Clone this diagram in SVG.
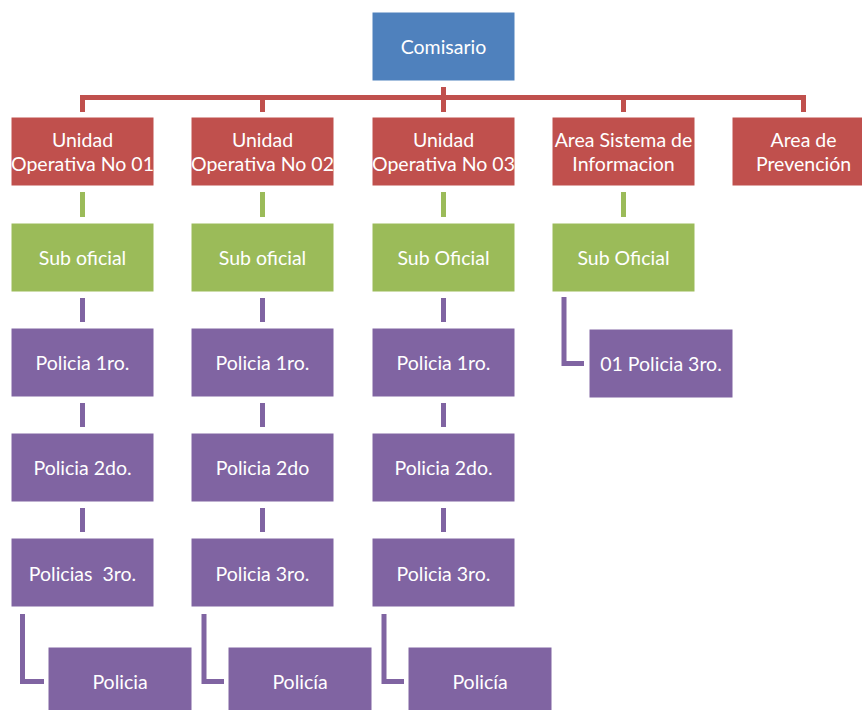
<svg xmlns="http://www.w3.org/2000/svg" width="862" height="710" viewBox="0 0 862 710">
<style>
.b{stroke:#fff;stroke-width:1}
.blue{fill:#4F81BD}.red{fill:#C0504D}.green{fill:#9BBB59}.purple{fill:#8064A2}
text{font-family:Lato,"Open Sans","Liberation Sans",sans-serif;font-size:19.5px;fill:#fff;text-anchor:middle;dominant-baseline:central}
.cr{stroke:#C0504D;stroke-width:5;fill:none}
.cg{stroke:#9BBB59;stroke-width:5;fill:none}
.cp{stroke:#8064A2;stroke-width:5;fill:none}
</style>
<rect width="862" height="710" fill="#fff"/>
<g id="connectors">
<path class="cr" d="M443.5 87V97.5M82.5 112V97.5H803.5V112M262.5 97.5V112M443.5 97.5V112M623.5 97.5V112"/>
<path class="cg" d="M82.5 192V217M262.5 192V217M443.5 192V217M623.5 192V217"/>
<path class="cp" d="M82.5 298V322M82.5 403V427M82.5 508V532M262.5 298V322M262.5 403V427M262.5 508V532M443.5 298V322M443.5 403V427M443.5 508V532"/>
<path class="cp" d="M22.5 614V681.5H44M204 614V681.5H224M384 614V681.5H404M564 297V363.5H584"/>
</g>
<g id="n-comisario"><rect class="b blue" x="372" y="12" width="143" height="69"/><text x="443.5" y="46">Comisario</text></g>
<g id="n-u1"><rect class="b red" x="11" y="117" width="143" height="69"/><text x="82.5" y="139.5">Unidad</text><text x="82.5" y="163.5">Operativa No 01</text></g>
<g id="n-u2"><rect class="b red" x="191" y="117" width="143" height="69"/><text x="262.5" y="139.5">Unidad</text><text x="262.5" y="163.5">Operativa No 02</text></g>
<g id="n-u3"><rect class="b red" x="372" y="117" width="143" height="69"/><text x="443.5" y="139.5">Unidad</text><text x="443.5" y="163.5">Operativa No 03</text></g>
<g id="n-asi"><rect class="b red" x="552" y="117" width="143" height="69"/><text x="623.5" y="139.5">Area Sistema de</text><text x="623.5" y="163.5">Informacion</text></g>
<g id="n-ap"><rect class="b red" x="732" y="117" width="143" height="69"/><text x="803.5" y="139.5">Area de</text><text x="803.5" y="163.5">Prevención</text></g>
<g id="n-so1"><rect class="b green" x="11" y="223" width="143" height="69"/><text x="82.5" y="257">Sub oficial</text></g>
<g id="n-so2"><rect class="b green" x="191" y="223" width="143" height="69"/><text x="262.5" y="257">Sub oficial</text></g>
<g id="n-so3"><rect class="b green" x="372" y="223" width="143" height="69"/><text x="443.5" y="257">Sub Oficial</text></g>
<g id="n-so4"><rect class="b green" x="552" y="223" width="143" height="69"/><text x="623.5" y="257">Sub Oficial</text></g>
<g id="n-p1a"><rect class="b purple" x="11" y="328" width="143" height="69"/><text x="82.5" y="362">Policia 1ro.</text></g>
<g id="n-p1b"><rect class="b purple" x="191" y="328" width="143" height="69"/><text x="262.5" y="362">Policia 1ro.</text></g>
<g id="n-p1c"><rect class="b purple" x="372" y="328" width="143" height="69"/><text x="443.5" y="362">Policia 1ro.</text></g>
<g id="n-p3d"><rect class="b purple" x="589" y="329" width="144" height="69"/><text x="661" y="363">01 Policia 3ro.</text></g>
<g id="n-p2a"><rect class="b purple" x="11" y="433" width="143" height="69"/><text x="82.5" y="467">Policia 2do.</text></g>
<g id="n-p2b"><rect class="b purple" x="191" y="433" width="143" height="69"/><text x="262.5" y="467">Policia 2do</text></g>
<g id="n-p2c"><rect class="b purple" x="372" y="433" width="143" height="69"/><text x="443.5" y="467">Policia 2do.</text></g>
<g id="n-p3a"><rect class="b purple" x="11" y="538" width="143" height="69"/><text x="82.5" y="573" xml:space="preserve">Policias  3ro.</text></g>
<g id="n-p3b"><rect class="b purple" x="191" y="538" width="143" height="69"/><text x="262.5" y="573">Policia 3ro.</text></g>
<g id="n-p3c"><rect class="b purple" x="372" y="538" width="143" height="69"/><text x="443.5" y="573">Policia 3ro.</text></g>
<g id="n-pa"><rect class="b purple" x="48" y="647" width="144" height="69"/><text x="120" y="681">Policia</text></g>
<g id="n-pb"><rect class="b purple" x="228" y="647" width="144" height="69"/><text x="300" y="681">Policía</text></g>
<g id="n-pc"><rect class="b purple" x="408" y="647" width="144" height="69"/><text x="480" y="681">Policía</text></g>
</svg>
